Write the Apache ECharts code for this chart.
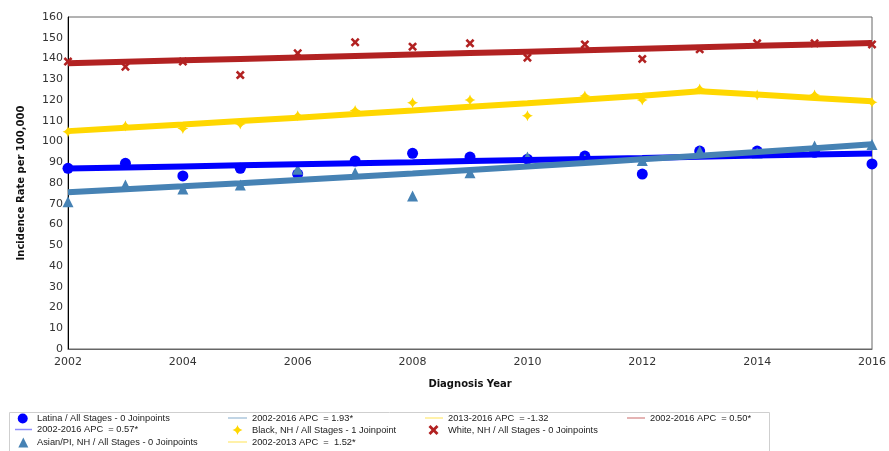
<!DOCTYPE html>
<html><head><meta charset="utf-8">
<script src="https://cdn.jsdelivr.net/npm/echarts@6/dist/echarts.min.js"></script>
<style>html,body{margin:0;padding:0;background:#fff}#c{width:889px;height:451px}</style>
</head><body><div id="c"></div>
<script>
const years = [2002,2003,2004,2005,2006,2007,2008,2009,2010,2011,2012,2013,2014,2015,2016];
const yTicks = [0,10,20,30,40,50,60,70,80,90,100,110,120,130,140,150,160];
const xTicks = [2002,2004,2006,2008,2010,2012,2014,2016];

const latinaObs = [87.1,89.5,83.4,87.1,84.3,90.6,94.3,92.5,91.5,93.0,84.3,95.4,95.4,94.8,89.2];
const latinaFit = [87.0,87.5,88.0,88.5,89.0,89.5,90.0,90.6,91.1,91.6,92.1,92.7,93.2,93.7,94.2];
const asianObs  = [71.0,79.0,77.1,79.0,86.6,85.0,73.7,85.0,92.5,91.5,90.8,95.4,94.5,97.8,98.5];
const asianFit  = [75.5,77.0,78.4,79.9,81.5,83.0,84.6,86.3,87.9,89.6,91.4,93.1,94.9,96.8,98.7];
const blackObs  = [104.7,107.5,106.3,108.4,112.4,114.9,118.7,120.0,112.4,121.9,120.0,125.3,122.4,122.4,118.9];
const blackFitA = [105.0,106.6,108.2,109.9,111.5,113.2,114.9,116.7,118.4,120.2,122.1,124.2];
const blackFitAYears = [2002,2003,2004,2005,2006,2007,2008,2009,2010,2011,2012,2013];
const blackFitB = [124.2,122.6,121.0,119.4];
const blackFitBYears = [2013,2014,2015,2016];
const whiteObs  = [138.5,136.0,138.5,132.0,142.5,147.8,145.7,147.3,140.4,146.8,139.8,144.4,147.3,147.3,146.8];
const whiteFit  = [137.7,138.4,139.1,139.8,140.5,141.2,141.9,142.6,143.3,144.0,144.7,145.4,146.1,146.8,147.5];

const N = {
  latina: 'Latina / All Stages - 0 Joinpoints',
  latinaFit: '2002-2016 APC  = 0.57*',
  asian: 'Asian/PI, NH / All Stages - 0 Joinpoints',
  asianFit: '2002-2016 APC  = 1.93*',
  black: 'Black, NH / All Stages - 1 Joinpoint',
  blackA: '2002-2013 APC  =  1.52*',
  blackB: '2013-2016 APC  = -1.32',
  white: 'White, NH / All Stages - 0 Joinpoints',
  whiteFit: '2002-2016 APC  = 0.50*'
};
const C = {latina:'#0000FF', asian:'#4682B4', black:'#FFD700', white:'#B22222'};
const pair = (xs, ys) => xs.map((x,i)=>[x, ys[i]]);

const crossPath = 'path://M2,0 L5,3 L8,0 L10,2 L7,5 L10,8 L8,10 L5,7 L2,10 L0,8 L3,5 L0,2 Z';
const starPath = 'path://M5,0 Q6,4 10,5 Q6,6 5,10 Q4,6 0,5 Q4,4 5,0 Z';

function lineSeries(name, xs, ys, color){
  return {name, type:'line', data:pair(xs,ys), symbol:'none', z:4,
    lineStyle:{color, width:6}, itemStyle:{color}, animation:false};
}
function scatterSeries(name, ys, color, symbol, size){
  return {name, type:'scatter', data:pair(years,ys), symbol, symbolSize:size, z:3,
    itemStyle:{color, opacity:1}, animation:false};
}

// one legend per entry: [name, kind, iconLeft, iconWidth, textX, rowCenterY, color, symbol]
const FS = 9.3;
function legendItem(name, kind, iconLeft, iconW, textX, cy, color, symbol){
  const isLine = kind === 'line';
  const iconH = isLine ? 1.5 : 10;
  return {
    left: iconLeft, top: cy - 6, orient:'horizontal', selectedMode:false, padding:0,
    itemWidth: iconW, itemHeight: iconH,
    data:[{name, icon: isLine ? 'rect' : symbol,
      itemStyle:{color: color, opacity: isLine ? 0.45 : 1}}],
    textStyle:{fontFamily:'Liberation Sans', fontSize:FS, color:'#222',
      padding:[0,0,0, Math.max(0, textX - (iconLeft + iconW + 5))]}
  };
}
const legends = [
  legendItem(N.latina,   'pt',   17.7, 10, 37, 419.5, C.latina, 'circle'),
  legendItem(N.latinaFit,'line', 15,   17, 37, 431,   C.latina),
  legendItem(N.asian,    'pt',   18.3, 10, 37, 443.5, C.asian, 'triangle'),
  legendItem(N.asianFit, 'line', 228,  19, 252, 419.5, C.asian),
  legendItem(N.black,    'pt',   232.5,10, 252, 431,  C.black, starPath),
  legendItem(N.blackA,   'line', 228,  19, 252, 443.5, C.black),
  legendItem(N.blackB,   'line', 425,  18, 448, 419.5, C.black),
  legendItem(N.white,    'pt',   428.5,10, 448, 431,  C.white, crossPath),
  legendItem(N.whiteFit, 'line', 627,  18, 650, 419.5, C.white)
];

const option = {
  backgroundColor:'#fff',
  animation:false,
  grid:{left:68, right:10, top:17, bottom:102, show:true, borderColor:'#666', borderWidth:1},
  xAxis:{type:'value', min:2002, max:2016, interval:2,
    name:'Diagnosis Year', nameLocation:'middle', nameGap:30,
    nameTextStyle:{fontFamily:'DejaVu Sans', fontWeight:'bold', fontSize:10, color:'#111'},
    axisLine:{show:true, lineStyle:{color:'#666'}}, axisTick:{show:false}, splitLine:{show:false},
    axisLabel:{fontFamily:'DejaVu Sans', fontSize:11, color:'#333', margin:8,
      formatter:v=>xTicks.includes(v)?String(v):''}},
  yAxis:{type:'value', min:0, max:160, interval:10,
    name:'Incidence Rate per 100,000', nameLocation:'middle', nameGap:42,
    nameTextStyle:{fontFamily:'DejaVu Sans', fontWeight:'bold', fontSize:10, color:'#111'},
    axisLine:{show:true, lineStyle:{color:'#000'}}, axisTick:{show:false}, splitLine:{show:false},
    axisLabel:{fontFamily:'DejaVu Sans', fontSize:11, color:'#333', margin:5,
      formatter:v=>yTicks.includes(v)?String(v):''}},
  legend: legends,
  graphic:[{type:'rect', left:7, top:410, shape:{width:760, height:45},
    style:{fill:'none', stroke:'#cfcfcf', lineWidth:1}, silent:true, z:-1}],
  series:[
    scatterSeries(N.latina, latinaObs, C.latina, 'circle', 11),
    scatterSeries(N.asian, asianObs, C.asian, 'triangle', 11),
    scatterSeries(N.black, blackObs, C.black, starPath, 11),
    scatterSeries(N.white, whiteObs, C.white, crossPath, 9),
    lineSeries(N.latinaFit, years, latinaFit, C.latina),
    lineSeries(N.asianFit, years, asianFit, C.asian),
    lineSeries(N.blackA, blackFitAYears, blackFitA, C.black),
    lineSeries(N.blackB, blackFitBYears, blackFitB, C.black),
    lineSeries(N.whiteFit, years, whiteFit, C.white)
  ]
};
const chart = echarts.init(document.getElementById('c'), null, {renderer:'canvas'});
chart.setOption(option);
</script></body></html>
